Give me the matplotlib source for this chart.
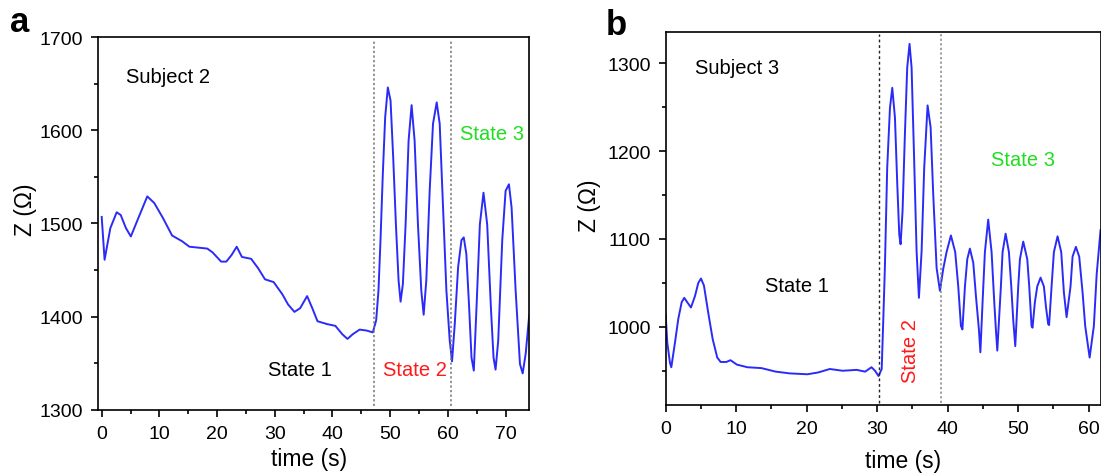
import matplotlib
matplotlib.use("Agg")
import matplotlib.pyplot as plt
from matplotlib.ticker import MultipleLocator

plt.rcParams['font.family'] = ['Liberation Sans', 'DejaVu Sans']

# subject 2 (panel a)
time_a = [0, 0.5, 1.5, 2.6, 3.3, 4.2, 5.05, 6.3, 7.9, 9.1, 10.6, 12.2, 13.9, 15.2, 18.3, 19.2,
          20.7, 21.6, 22.5, 23.4, 24.3, 25.9, 27.1, 28.3, 29.8, 31.3, 32.3, 33.4, 34.4, 35.6,
          36.5, 37.4, 39.0, 40.5, 41.7, 42.6, 43.5, 44.7, 45.9, 46.99, 47.57, 47.97, 48.32,
          48.72, 49.13, 49.59, 50.06, 50.52, 50.99, 51.45, 51.8, 52.2, 52.67, 53.19, 53.71,
          54.23, 54.81, 55.39, 55.8, 56.26, 56.84, 57.42, 58.06, 58.58, 59.16, 59.74, 60.32,
          60.72, 61.19, 61.77, 62.35, 62.75, 63.2, 63.68, 64.09, 64.49, 64.96, 65.54, 66.17,
          66.81, 67.45, 67.91, 68.26, 68.72, 69.42, 70.0, 70.58, 71.04, 71.74, 72.49, 72.96,
          73.48, 74.06, 74.4]
z_a = [1507, 1461, 1495, 1512, 1509, 1495, 1486, 1505, 1529, 1522, 1506, 1487, 1481, 1475, 1473, 1469,
       1459, 1459, 1466, 1475, 1464, 1462, 1452, 1440, 1437, 1424, 1413, 1405, 1409, 1422,
       1409, 1395, 1392, 1390, 1381, 1376, 1381, 1386, 1385, 1383, 1396, 1428, 1482,
       1553, 1614, 1646, 1632, 1571, 1499, 1439, 1416, 1435, 1499, 1589, 1627,
       1589, 1499, 1428, 1402, 1439, 1535, 1607, 1630, 1607, 1517, 1428, 1374,
       1352, 1392, 1453, 1482, 1485, 1467, 1410, 1356, 1342, 1410, 1499, 1533,
       1499, 1410, 1356, 1343, 1374, 1482, 1535, 1542, 1517, 1428, 1349, 1339,
       1360, 1399, 1410]
states_a = [47.2, 60.6]

# subject 3 (panel b)
time_b = [0, 0.23, 0.61, 0.8, 1.32, 1.79, 2.27, 2.64, 3.06, 3.59, 4.16, 4.63, 5.01, 5.43, 6.04,
          6.67, 7.32, 7.8, 8.6, 9.2, 10.1, 11.6, 13.6, 15.6, 17.6, 20.1, 21.6, 23.3, 25.1, 27.1,
          28.3, 29.2, 29.7, 30.2, 30.65, 30.87, 31.1, 31.43, 31.82, 32.15, 32.53, 32.86, 33.14,
          33.33, 33.61, 33.94, 34.27, 34.6, 34.89, 35.22, 35.6, 35.93, 36.31, 36.68, 37.16,
          37.59, 37.96, 38.44, 38.91, 39.38, 39.85, 40.47, 41.08, 41.51, 41.89, 42.1, 42.46,
          42.79, 43.16, 43.64, 44.02, 44.44, 44.65, 44.96, 45.29, 45.76, 46.24, 46.62, 46.85,
          47.05, 47.56, 47.8, 48.23, 48.7, 49.03, 49.31, 49.6, 50.02, 50.26, 50.73, 51.3, 51.58,
          51.91, 52.05, 52.38, 52.72, 53.19, 53.66, 53.95, 54.27, 54.4, 54.75, 55.08, 55.6,
          56.12, 56.5, 56.88, 57.44, 57.73, 58.2, 58.67, 59.15, 59.52, 60.15, 60.75, 61.15,
          61.7]
z_b = [1014, 982, 959, 954, 982, 1009, 1028, 1033, 1028, 1022, 1035, 1050, 1055, 1047, 1016,
       986, 965, 960, 960, 962, 957, 954, 953, 949, 947, 946, 948, 952, 950, 951,
       949, 954, 950, 944, 952, 1007, 1067, 1181, 1249, 1272, 1238, 1162, 1105,
       1094, 1132, 1219, 1295, 1322, 1295, 1200, 1086, 1033, 1086, 1181, 1252,
       1227, 1151, 1067, 1041, 1066, 1085, 1104, 1085, 1046, 1001, 997, 1046,
       1077, 1089, 1073, 1035, 997, 971, 1028, 1085, 1122, 1085, 1028, 997,
       973, 1046, 1085, 1106, 1085, 1046, 1008, 978, 1046, 1077, 1097, 1077, 1046,
       1001, 999, 1028, 1046, 1056, 1046, 1023, 1003, 1002, 1046, 1085, 1103,
       1085, 1039, 1011, 1046, 1080, 1091, 1080, 1039, 1001, 965, 1001, 1060,
       1110]
states_b = [30.25, 39.05]

line_color = '#2b2bf8'
tick_fs = 14
label_fs = 16.5
note_fs = 14.5

fig = plt.figure(figsize=(11.01, 4.77), dpi=100)
ax1 = fig.add_axes([0.0887, 0.139, 0.392, 0.781])
ax2 = fig.add_axes([0.6046, 0.1488, 0.3950, 0.781])


def style(ax, xlab_pos, ylab_pos):
    for s in ax.spines.values():
        s.set_linewidth(1.2)
    ax.tick_params(which='major', direction='out', length=6.7 * 0.72, width=1.2,
                   labelsize=tick_fs, pad=6)
    ax.tick_params(which='minor', direction='out', length=3.8 * 0.72, width=1.2)
    ax.xaxis.set_major_locator(MultipleLocator(10))
    ax.xaxis.set_minor_locator(MultipleLocator(5))
    ax.yaxis.set_major_locator(MultipleLocator(100))
    ax.yaxis.set_minor_locator(MultipleLocator(50))
    ax.set_xlabel('time (s)', fontsize=label_fs)
    ax.set_ylabel('Z (\u03a9)', fontsize=label_fs)
    ax.xaxis.set_label_coords(*xlab_pos)
    ax.yaxis.set_label_coords(*ylab_pos)


ax1.plot(time_a, z_a, color=line_color, lw=1.4)
for t in states_a:
    ax1.axvline(t, ymin=0.01, ymax=0.99, color='#777777', ls=(0, (1.5, 1.5)), lw=1.1)
ax1.set_xlim(-0.7, 74.1)
ax1.set_ylim(1300, 1700)
style(ax1, (0.49, -0.100), (-0.141, 0.54))
ax1.text(4.2, 1658, 'Subject 2', fontsize=note_fs, va='center')
ax1.text(28.9, 1343, 'State 1', fontsize=note_fs, va='center', color='black')
ax1.text(48.7, 1343, 'State 2', fontsize=note_fs, va='center', color='#ff1a1a')
ax1.text(62.1, 1597, 'State 3', fontsize=note_fs, va='center', color='#22dd22')

ax2.plot(time_b, z_b, color=line_color, lw=1.4)
ax2.axvline(states_b[0], ymin=0.005, ymax=0.995, color='#222222', ls=(0, (2, 2)), lw=1)
ax2.axvline(states_b[1], ymin=0.005, ymax=0.995, color='#888888', ls=(0, (1.5, 1.5)), lw=1.1)
ax2.set_xlim(0, 61.7)
ax2.set_ylim(911, 1335)
style(ax2, (0.545, -0.118), (-0.149, 0.537))
ax2.text(4.1, 1295, 'Subject 3', fontsize=note_fs, va='center')
ax2.text(14.1, 1047, 'State 1', fontsize=note_fs, va='center', color='black')
ax2.text(34.8, 973, 'State 2', fontsize=note_fs, va='center', ha='center', rotation=90,
         color='#ff1a1a')
ax2.text(46.1, 1190, 'State 3', fontsize=note_fs, va='center', color='#22dd22')

fig.text(0.009, 0.9335, 'a', fontsize=25, fontweight='bold', va='baseline')
fig.text(0.5505, 0.927, 'b', fontsize=25, fontweight='bold', va='baseline')

fig.savefig('out.png', dpi=100)
